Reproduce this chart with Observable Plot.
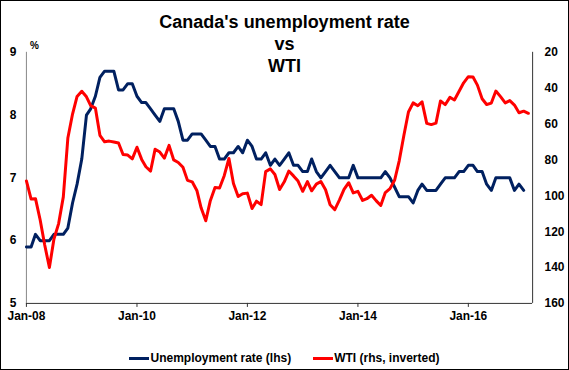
<!DOCTYPE html>
<html>
<head>
<meta charset="utf-8">
<script src="https://cdn.jsdelivr.net/npm/d3@7"></script>
<script src="https://cdn.jsdelivr.net/npm/@observablehq/plot@0.6"></script>
<style>
html,body{margin:0;padding:0;background:#fff;}
#chart{position:relative;width:569px;height:370px;box-sizing:border-box;border:1px solid #000;overflow:hidden;font-family:"Liberation Sans",Arial,sans-serif;color:#000;}
#chart svg{position:absolute;left:-1px;top:-1px;}
#title{position:absolute;left:0;top:10px;width:567px;text-align:center;font-weight:bold;font-size:18px;line-height:22px;}
#pct{position:absolute;left:29px;top:40px;font-size:10px;font-weight:bold;line-height:10px;}
#legend{position:absolute;left:0;top:350px;width:567px;display:flex;justify-content:center;align-items:center;font-size:12px;font-weight:bold;line-height:14px;}
#legend .sw{display:inline-block;width:20px;height:3px;margin-right:1px;}
</style>
</head>
<body>
<div id="chart">
  <div id="title"></div>
  <div id="pct"></div>
  <div id="legend"></div>
</div>
<script>
// ---- Data ----
const titleLines = ["Canada's unemployment rate", "vs", "WTI"];
const leftUnit = "%";
const seriesNames = ["Unemployment rate (lhs)", "WTI (rhs, inverted)"];
const seriesColors = ["#002060", "#ff0000"];

// Monthly unemployment rate, Jan-08 .. Jan-17 (%)
const unemp2008 = [5.9, 5.9, 6.1, 6.0, 6.0, 6.0, 6.1, 6.1, 6.1, 6.2, 6.6, 6.9];
const unemp2009 = [7.3, 8.0, 8.1, 8.3, 8.6, 8.7, 8.7, 8.7, 8.4, 8.4, 8.5, 8.5];
const unemp2010 = [8.3, 8.2, 8.2, 8.1, 8.0, 7.9, 8.1, 8.1, 8.1, 7.9, 7.6, 7.6];
const unemp2011 = [7.7, 7.7, 7.7, 7.6, 7.5, 7.5, 7.3, 7.3, 7.4, 7.4, 7.5, 7.4];
const unemp2012 = [7.6, 7.5, 7.3, 7.3, 7.4, 7.2, 7.3, 7.2, 7.3, 7.4, 7.2, 7.2];
const unemp2013 = [7.1, 7.1, 7.3, 7.1, 7.0, 7.1, 7.2, 7.1, 7.0, 7.0, 7.0, 7.2];
const unemp2014 = [7.0, 7.0, 7.0, 7.0, 7.0, 7.0, 7.1, 7.0, 6.85, 6.7, 6.7, 6.7];
const unemp2015 = [6.6, 6.8, 6.9, 6.8, 6.8, 6.8, 6.9, 7.0, 7.0, 7.0, 7.1, 7.1];
const unemp2016 = [7.2, 7.2, 7.1, 7.1, 6.9, 6.8, 7.0, 7.0, 7.0, 7.0, 6.8, 6.9];
const unemp2017 = [6.8];

// Monthly WTI (USD/bbl), Jan-08 .. Feb-17
const wti2008 = [91.7, 101.8, 101.6, 113.5, 127.4, 140.0, 124.1, 115.5, 100.6, 67.8, 54.4, 44.6];
const wti2009 = [41.7, 44.8, 49.7, 51.1, 66.3, 69.9, 69.5, 70.0, 70.6, 77.0, 77.3, 79.4];
const wti2010 = [72.9, 79.7, 83.8, 86.2, 74.0, 75.6, 79.0, 71.9, 80.0, 81.4, 84.1, 91.4];
const wti2011 = [92.2, 97.0, 106.7, 113.9, 102.7, 95.4, 95.7, 88.8, 79.2, 93.2, 100.4, 98.8];
const wti2012 = [98.5, 107.1, 103.0, 104.9, 86.5, 85.0, 88.1, 96.5, 92.2, 86.2, 88.9, 91.8];
const wti2013 = [97.5, 92.1, 97.2, 93.5, 92.0, 96.6, 105.0, 107.7, 102.3, 96.4, 92.7, 98.4];
const wti2014 = [97.5, 102.6, 101.6, 99.7, 102.7, 105.4, 98.2, 96.0, 91.2, 80.5, 66.2, 53.3];
const wti2015 = [48.2, 49.8, 47.6, 59.6, 60.3, 59.5, 47.1, 49.2, 45.1, 46.6, 41.7, 37.0];
const wti2016 = [33.6, 33.8, 38.3, 45.9, 49.1, 48.3, 41.6, 44.7, 48.2, 46.9, 49.4, 53.7];
const wti2017 = [52.8, 54.0];

// Axis ticks
const leftTicks = [5, 6, 7, 8, 9];
const rightTicks = [20, 40, 60, 80, 100, 120, 140, 160];
const xTickYears = [2008, 2010, 2012, 2014, 2016];

// ---- Build ----
const unemp = [].concat(unemp2008, unemp2009, unemp2010, unemp2011, unemp2012, unemp2013, unemp2014, unemp2015, unemp2016, unemp2017);
const wti = [].concat(wti2008, wti2009, wti2010, wti2011, wti2012, wti2013, wti2014, wti2015, wti2016, wti2017);
const start = new Date(Date.UTC(2008, 0, 1));
const xEnd = new Date(Date.UTC(2017, 2, 1));
const months = d3.utcMonth.range(start, new Date(Date.UTC(2018, 0, 1)));
const unempData = unemp.map((v, i) => ({date: months[i], value: v}));
// right axis: 20 (top) .. 160 (bottom) mapped onto left 9 .. 5
const toU = w => 9 - (w - 20) / 35;
const toW = u => 20 + (9 - u) * 35;
const wtiData = wti.map((v, i) => ({date: months[i], u: toU(v)}));
const xTicks = xTickYears.map(y => new Date(Date.UTC(y, 0, 1)));
const fmt = d3.utcFormat("%b-%y");

const plot = Plot.plot({
  width: 569,
  height: 370,
  marginTop: 52,
  marginBottom: 66,
  marginLeft: 26,
  marginRight: 35,
  style: {fontFamily: "Liberation Sans, Arial, sans-serif", fontSize: "12px", fontWeight: "bold", color: "#000", background: "transparent"},
  x: {type: "utc", domain: [start, xEnd]},
  y: {domain: [5, 9]},
  marks: [
    Plot.axisX({ticks: xTicks, tickFormat: fmt, tickSize: 4, tickPadding: 4, stroke: "#333", label: null}),
    Plot.axisY({anchor: "left", ticks: leftTicks, tickFormat: d => String(d), tickSize: 0, tickPadding: 10, label: null}),
    Plot.axisY({anchor: "right", ticks: rightTicks.map(toU), tickFormat: u => String(Math.round(toW(u))), tickSize: 0, tickPadding: 12, label: null}),
    Plot.ruleX([start], {stroke: "#888"}),
    Plot.ruleX([xEnd], {stroke: "#333"}),
    Plot.ruleY([5], {stroke: "#333"}),
    Plot.line(unempData, {x: "date", y: "value", stroke: seriesColors[0], strokeWidth: 3, strokeLinejoin: "round"}),
    Plot.line(wtiData, {x: "date", y: "u", stroke: seriesColors[1], strokeWidth: 3, strokeLinejoin: "round"})
  ]
});

const chart = document.getElementById("chart");
chart.insertBefore(plot, chart.firstChild);
document.getElementById("title").innerHTML = titleLines.map(t => `<div>${t}</div>`).join("");
document.getElementById("pct").textContent = leftUnit;
document.getElementById("legend").innerHTML =
  `<span class="sw" style="background:${seriesColors[0]}"></span><span>${seriesNames[0]}</span>` +
  `<span class="sw" style="background:${seriesColors[1]};margin-left:22px"></span><span>${seriesNames[1]}</span>`;
</script>
</body>
</html>
